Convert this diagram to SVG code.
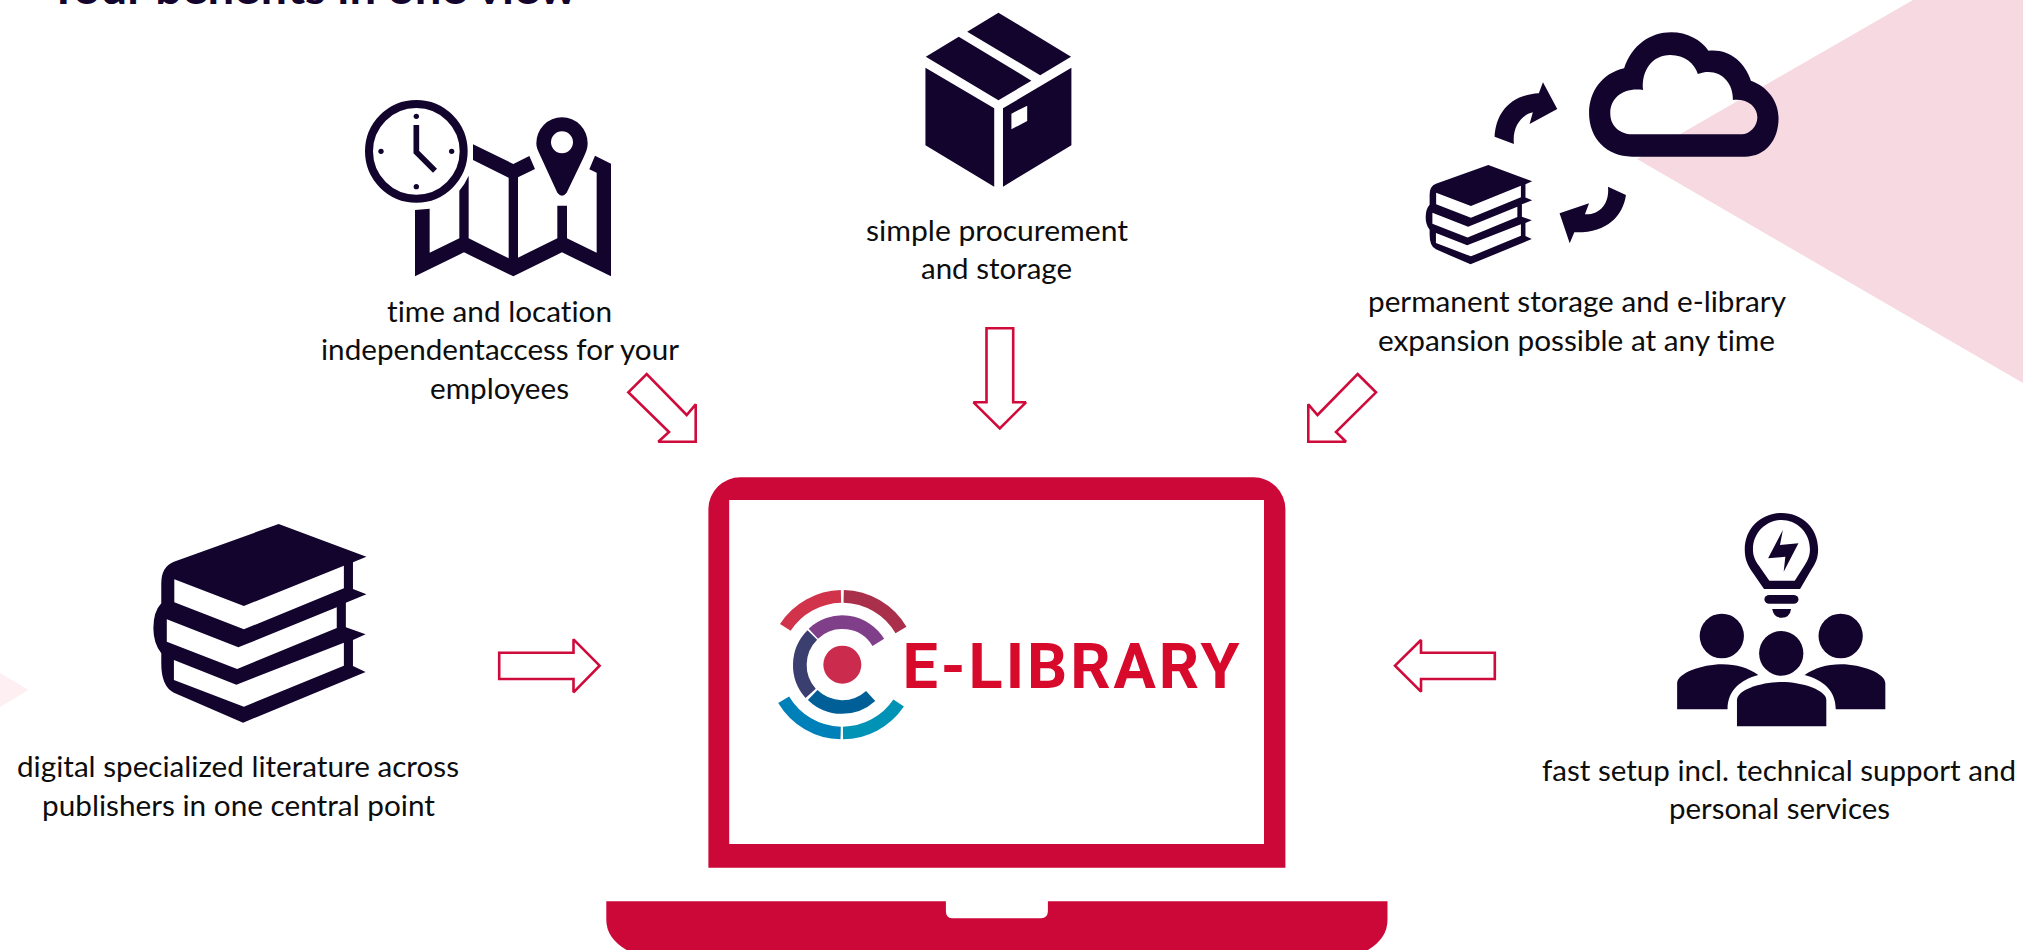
<svg xmlns="http://www.w3.org/2000/svg" width="2023" height="950" viewBox="0 0 2023 950">
<style>
.ic{fill:#13042e;fill-rule:evenodd}
.lb{font-family:"Lato","Liberation Sans",sans-serif;font-size:29.5px;fill:#0d0d0d;font-variant-ligatures:none}
.ar{fill:#fff;stroke:#cf0b3b;stroke-width:2.6;stroke-linejoin:miter;stroke-miterlimit:2}
.ro{fill:none;stroke-width:38}
.ri{fill:none;stroke-width:41}
</style>
<defs>
<path id="books" class="ic" d="M705,72 L927,170 L893,187 L893,267 L927,283 L875,308 L875,382 L925,403 L893,420 L893,498 L925,516 L615,668 L440,578 Q408,560 408,490 L408,460 Q388,430 388,385 Q388,335 408,310 L408,250 Q408,200 440,185 Z M441,238 L617,318 L870,197 L870,265 L617,388 L441,307 Z M422,358 L603,442 L852,322 L852,384 L600,507 L422,425 Z M440,480 L598,554 L870,428 L870,497 L617,620 L440,540 Z"/>
</defs>
<rect width="2023" height="950" fill="#fff"/>
<g id="background">
<polygon points="1637,159 1913,0 2023,0 2023,383" fill="#f6d9e1"/>
<polygon points="0,673 28.5,690 0,707" fill="#fdeff2"/>
</g>
<g id="title">
<text x="48" y="3.5" textLength="529" lengthAdjust="spacingAndGlyphs" font-family="Lato,'Liberation Sans',sans-serif" font-size="44" font-weight="700" fill="#13042e">Your benefits in one view</text>
</g>
<g id="connectors">
<polygon class="ar" points="628.3,392.3 646.7,374 686.7,415 695.7,404.3 695.7,441.7 658.3,441.7 669,432"/>
<polygon class="ar" points="986.5,328.3 1013.2,328.3 1013.2,402.3 1026,402.3 999.8,428.3 973.5,402.3 986.5,402.3"/>
<polygon class="ar" points="1357.6,374 1376,392.3 1336,432 1346,441.7 1308.3,441.7 1308.3,404.3 1317.5,415"/>
<polygon class="ar" points="499.2,652.7 573.5,652.7 573.5,639.3 599.6,665.7 573.5,692.3 573.5,679 499.2,679"/>
<polygon class="ar" points="1494.8,652.7 1421,652.7 1421,640 1395,665.7 1421,691.7 1421,679 1494.8,679"/>
</g>
<g id="node-time-location">
<g transform="translate(300,0) scale(0.33333)">
<path class="ic" d="M345,630 L389,626 L389,758 L478,715 L478,572 Q495,552 506,527 L506,715 L626,775 L626,533 L519,480 L519,433 L640,492 L688,468 L705,507 L654,532 L654,773 L772,715 L772,617 L801,617 L801,715 L890,758 L890,518 L868,508 L885,467 L933,491 L933,829 L786,757 L640,829 L492,757 L345,829 Z"/>
<path class="ic" d="M786,352 A77,77 0 0 1 863,430 C863,445 858,458 850,474 L800,578 Q786,596 772,578 L720,465 C713,450 709,442 709,430 A77,77 0 0 1 786,352 Z M786,394 A33,33 0 1 0 786,460 A33,33 0 1 0 786,394 Z"/>
<circle cx="349" cy="454" r="142" fill="none" stroke="#13042e" stroke-width="24"/>
<circle cx="349" cy="349" r="8" fill="#13042e"/><circle cx="349" cy="560" r="8" fill="#13042e"/><circle cx="243" cy="454" r="8" fill="#13042e"/><circle cx="455" cy="454" r="8" fill="#13042e"/>
<polyline points="349,375 349,456 405,512" fill="none" stroke="#13042e" stroke-width="17"/>
</g>
<text class="lb" x="387" y="322" textLength="225" lengthAdjust="spacingAndGlyphs">time and location</text>
<text class="lb" x="321" y="360" textLength="358" lengthAdjust="spacingAndGlyphs">independentaccess for your</text>
<text class="lb" x="430" y="399" textLength="139" lengthAdjust="spacingAndGlyphs">employees</text>
</g>
<g id="node-procurement">
<g transform="translate(850,0) scale(0.35088,0.33333)">
<path class="ic" d="M423,38 L630,170 L542,226 L334,95 Z M310,110 L517,242 L423,301 L216,170 Z M215,203 L411,325 L411,560 L215,436 Z M436,325 L631,203 L631,436 L436,560 Z M460,341 L505,317 L505,363 L460,388 Z"/>
</g>
<text class="lb" x="866" y="241" textLength="262" lengthAdjust="spacingAndGlyphs">simple procurement</text>
<text class="lb" x="921" y="279" textLength="151" lengthAdjust="spacingAndGlyphs">and storage</text>
</g>
<g id="node-storage">
<g transform="translate(1300,0) scale(0.46104,0.33333)">
<path class="ic" d="M720,470 C665,470 627,415 627,340 C627,275 655,220 703,205 C720,135 760,97 805,97 C840,97 870,120 886,152 C930,145 965,185 978,242 C1015,260 1038,305 1038,355 C1038,420 1010,470 965,470 Z M720,403 C695,403 673,380 673,340 C673,295 700,262 744,270 C740,210 765,165 803,165 C835,165 855,190 863,222 C905,200 940,240 939,300 C970,295 992,320 992,352 C992,380 975,403 958,403 Z"/>
<path class="ic" d="M422,410 C425,340 455,285 518,280 L527,247 L558,327 L498,372 L505,337 C480,345 460,380 464,432 Z"/>
<path class="ic" d="M668,560 L707,585 C700,650 665,700 595,697 L585,730 L563,640 L627,610 L618,643 C650,645 672,610 668,560 Z"/>
</g>
<g transform="translate(1349,392.7) scale(0.1976,0.16667) translate(0,-1438)">
<use href="#books"/>
</g>
<text class="lb" x="1368" y="312" textLength="418" lengthAdjust="spacingAndGlyphs">permanent storage and e-library</text>
<text class="lb" x="1378" y="351" textLength="397" lengthAdjust="spacingAndGlyphs">expansion possible at any time</text>
</g>
<g id="node-literature">
<g transform="translate(0,500) scale(0.39526,0.33333)">
<use href="#books"/>
</g>
<text class="lb" x="17" y="777" textLength="442" lengthAdjust="spacingAndGlyphs">digital specialized literature across</text>
<text class="lb" x="42" y="816" textLength="393" lengthAdjust="spacingAndGlyphs">publishers in one central point</text>
</g>
<g id="node-setup">
<g transform="translate(1380,490) scale(0.40984,0.33333)">
<path class="ic" d="M937,297 L905,240 C895,220 890,205 890,178 C890,115 930,69 980,69 C1030,69 1069,115 1069,178 C1069,205 1063,220 1052,240 L1025,297 Z M950,272 L925,228 C915,212 910,198 910,178 C910,125 945,90 980,90 C1015,90 1049,125 1049,178 C1049,198 1044,212 1035,228 L1012,272 Z"/>
<polygon class="ic" points="983,120 976,165 1021,160 985,245 989,200 947,205"/>
<rect class="ic" x="938" y="315" width="83" height="26" rx="12" ry="12"/>
<path class="ic" d="M957,357 L1003,357 Q1000,383 980,383 Q960,383 957,357 Z"/>
<ellipse class="ic" cx="834" cy="438" rx="54" ry="67"/>
<ellipse class="ic" cx="1124" cy="438" rx="54" ry="67"/>
<ellipse class="ic" cx="979" cy="490" rx="54" ry="67"/>
<path class="ic" d="M871,709 L871,630 C871,600 930,576 980,576 C1030,576 1089,600 1089,630 L1089,709 Z"/>
<path class="ic" d="M725,658 L725,580 C725,550 785,523 835,523 C870,523 900,535 923,555 C880,570 848,600 848,658 Z"/>
<path class="ic" d="M1233,658 L1233,580 C1233,550 1175,523 1125,523 C1090,523 1060,535 1036,555 C1080,570 1112,600 1112,658 Z"/>
</g>
<text class="lb" x="1542" y="781" textLength="474" lengthAdjust="spacingAndGlyphs">fast setup incl. technical support and</text>
<text class="lb" x="1669" y="819" textLength="221" lengthAdjust="spacingAndGlyphs">personal services</text>
</g>
<g id="node-laptop">
<path fill="#cc0838" fill-rule="evenodd" d="M708.4,867.7 L708.4,509 A32,32 0 0 1 740.4,477.3 L1253.4,477.3 A32,32 0 0 1 1285.4,509 L1285.4,867.7 Z M729.2,500 L729.2,844 L1264,844 L1264,500 Z"/>
<path fill="#cc0838" d="M606.3,901.3 L945.9,901.3 L945.9,911 Q945.9,918.3 952,918.3 L1041,918.3 Q1047.9,918.3 1047.9,911 L1047.9,901.3 L1387.5,901.3 L1387.5,920 Q1387.5,938 1368,950 L626.6,950 Q606.3,938 606.3,920 Z"/>
</g>
<g id="node-logo">
<g transform="translate(842.33,664.67) scale(0.33333)">
<path class="ro" stroke="#d1334a" d="M-171,-112 A205,205 0 0 1 -4,-205"/>
<path class="ro" stroke="#a92f4a" d="M4,-205 A205,205 0 0 1 176,-104"/>
<path class="ro" stroke="#0093b6" d="M169,115 A205,205 0 0 1 2,205"/>
<path class="ro" stroke="#0080b9" d="M-5,205 A205,205 0 0 1 -176,105"/>
<path class="ri" stroke="#7f4089" d="M-87,-93 A127,127 0 0 1 108,-67"/>
<path class="ri" stroke="#3a3f70" d="M-95,86 A127,127 0 0 1 -90,-89"/>
<path class="ri" stroke="#005f96" d="M85,94 A127,127 0 0 1 -89,91"/>
<circle r="57" fill="#cb2c4d"/>
</g>
<text x="902.5" y="687.7" textLength="337" lengthAdjust="spacing" font-family="Roboto,'Liberation Sans',sans-serif" font-weight="700" font-size="63" fill="#d70a2c">E-LIBRARY</text>
</g>
</svg>
